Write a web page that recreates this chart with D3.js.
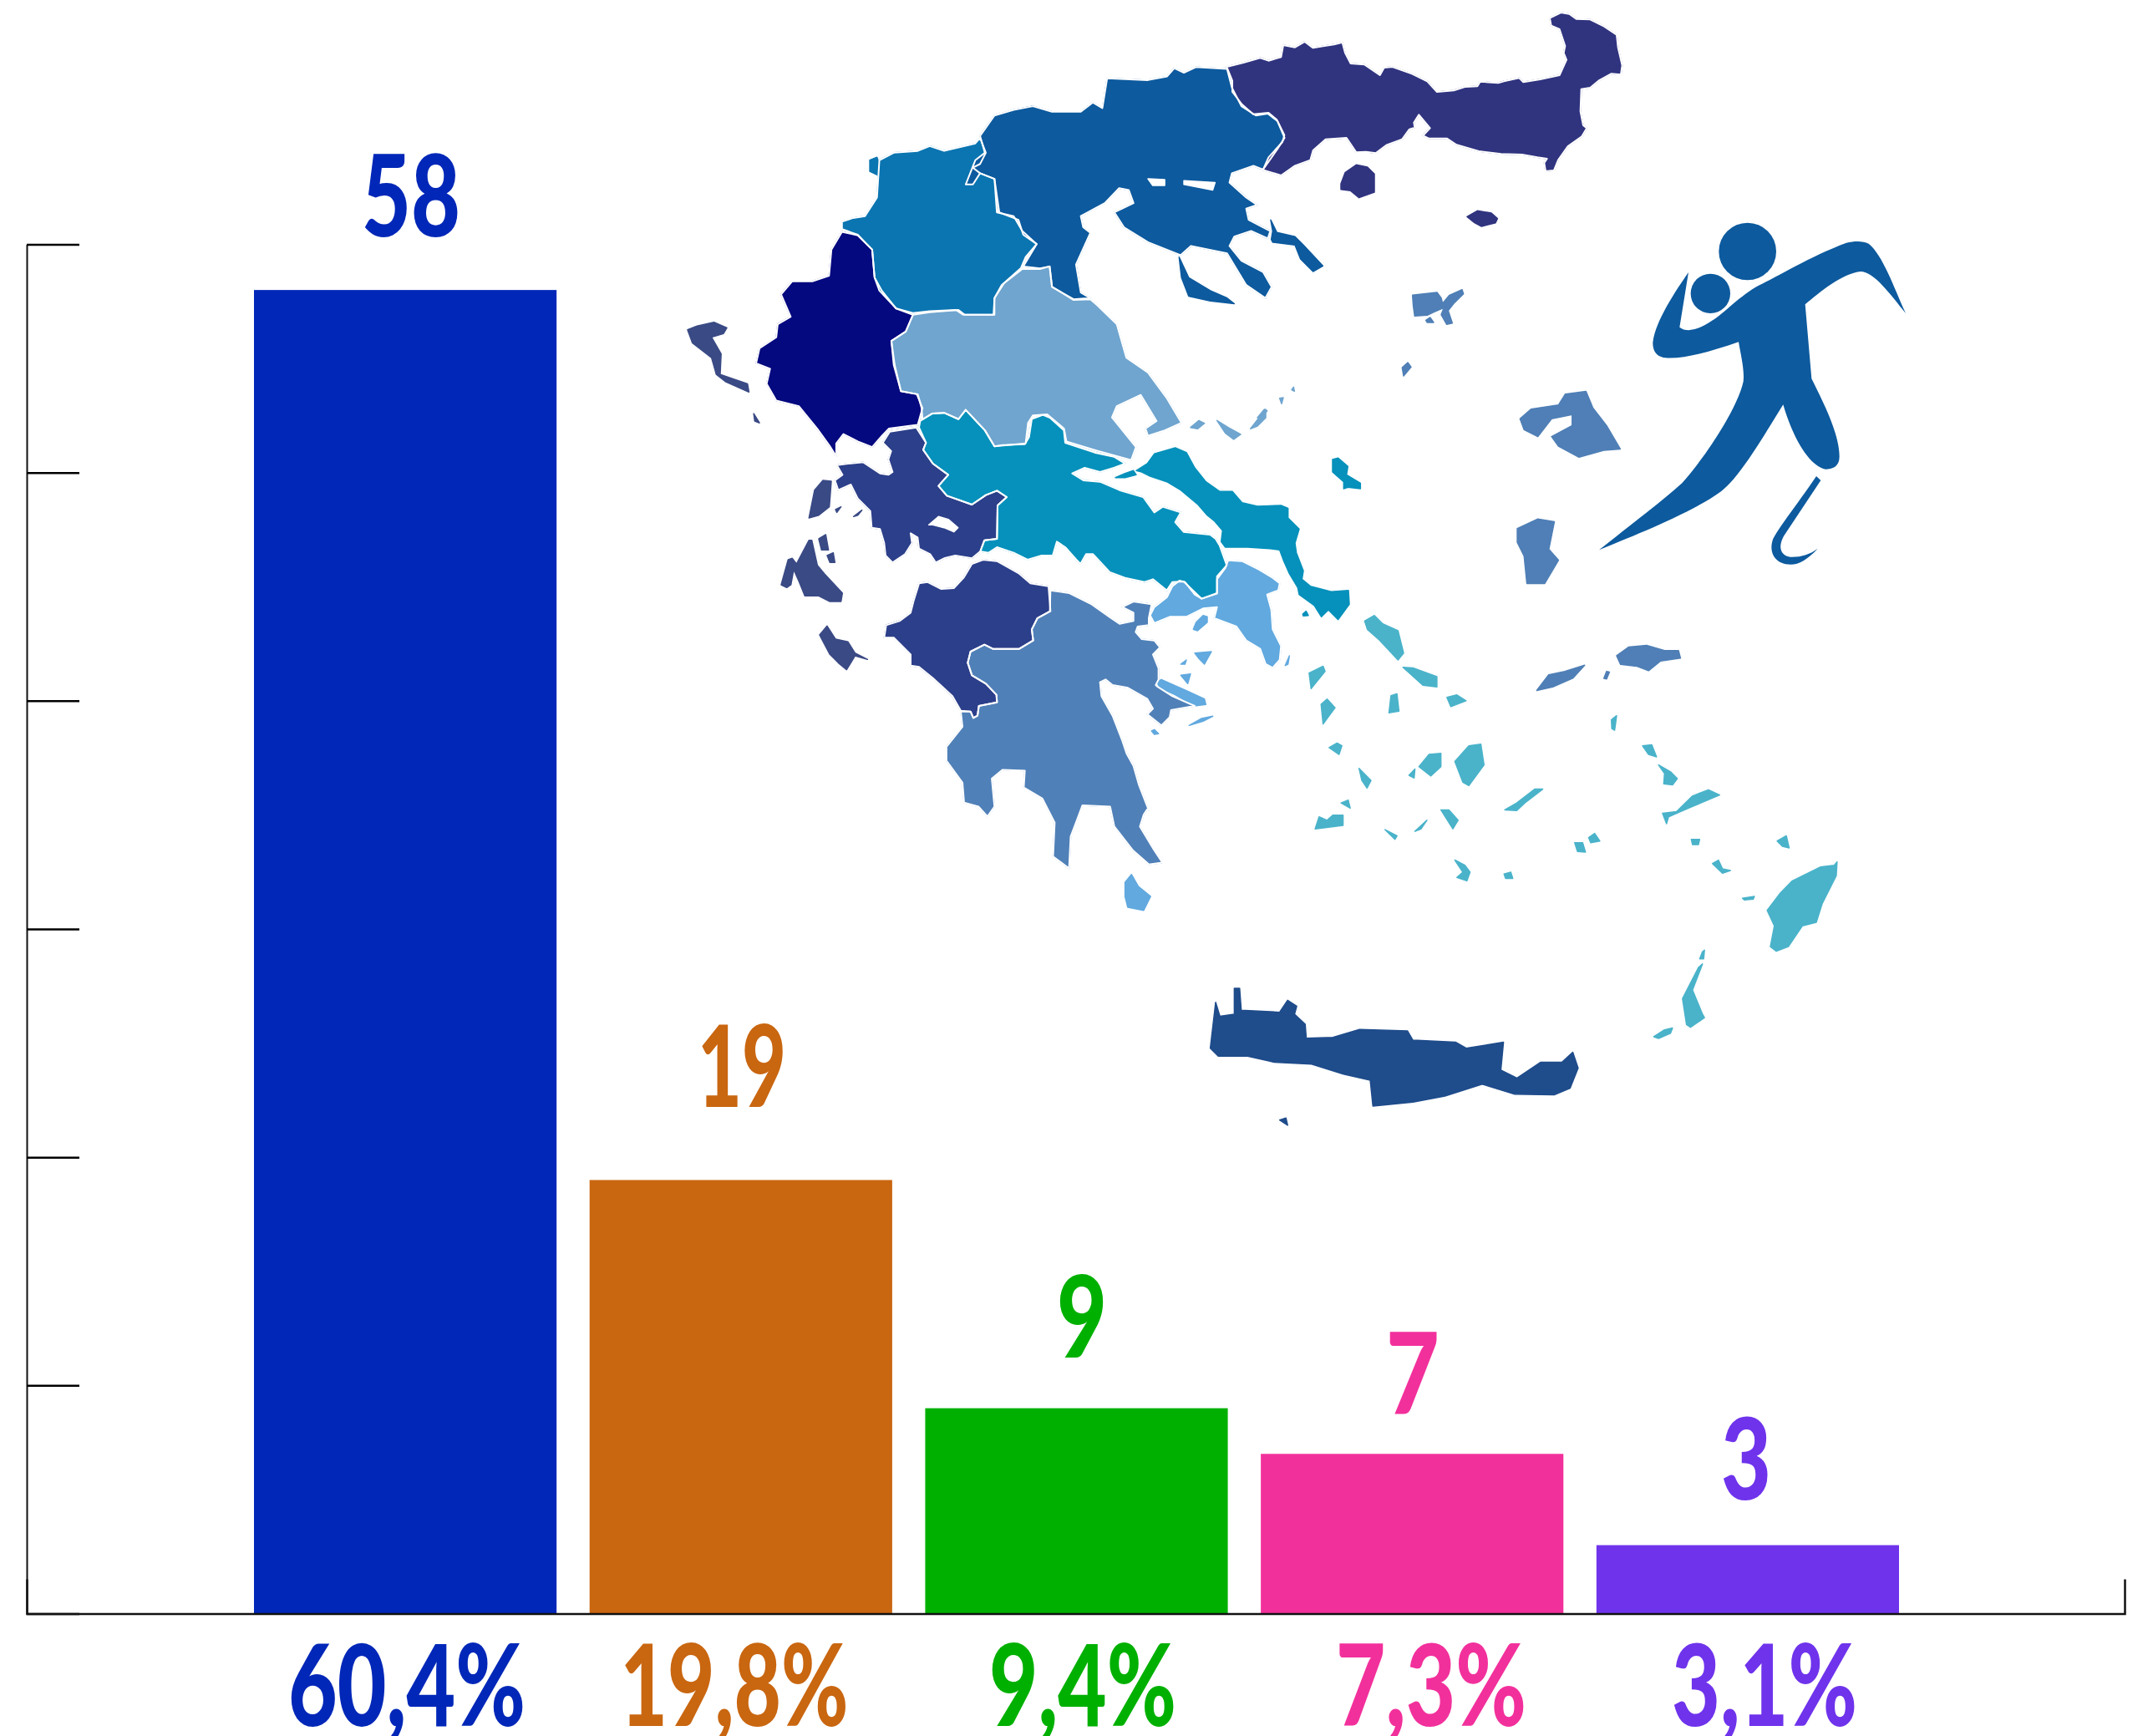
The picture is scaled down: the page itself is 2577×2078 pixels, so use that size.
<!DOCTYPE html>
<html><head><meta charset="utf-8">
<script src="https://cdn.jsdelivr.net/npm/d3@7/dist/d3.min.js"></script>
<style>html,body{margin:0;padding:0;background:#fff}svg{display:block}</style>
</head><body><svg id="c" width="2577" height="2078"></svg>
<script>
// ---------- chart data ----------
const percentLabels = ["60,4%","19,8%","9,4%","7,3%","3,1%"];
const seats = [58,19,9,7,3];
const barColors = ["#0027b8","#c96610","#00b000","#f2309c","#6f33ec"];
const yTicks = [0,10,20,30,40,50,60];

// ---------- label layout: centre, width, baseline for each hand-placed label ----------
const seatLabelCx = [492,888,1295,1691,2090];
const seatLabelW  = [118,106,60,64,60];
const seatLabelBase = [283,1325,1625,1693,1795];
const pctLabelCx = [487,879,1296,1713,2112];
const pctLabelW  = [284,273,224,228,222];

// ---------- map artwork, traced in crop coordinates ----------
const view=(ox,oy,kx,ky)=>pts=>pts.map(([x,y])=>[ox+x*kx,oy+y*ky]);
const Z2=view(800,0,.574,.446),Z3=view(900,650,.638,.478),Z5=view(1500,700,.478,.4145),
      Z7=view(1460,0,1/3,1/3),Z8=view(900,500,1/3,1/3),Z9=view(1200,480,1/3,1/3),R=view(0,0,1.6435,1.6435);

const thrace=[Z7([[25,240],[85,225],[145,208],[175,218],[220,205],[228,162],[270,170],[305,150],[335,172],[375,165],[410,160],[440,152],[450,190],[470,228],[520,232],[575,270],[590,243],[620,240],[690,265],[745,292],[780,330],[840,325],[880,312],[925,310],[935,293],[1000,298],[1020,292],[1075,280],[1090,295],[1150,285],[1220,270],[1245,215],[1235,190],[1240,165],[1220,105],[1190,92],[1185,65],[1225,45],[1255,50],[1280,68],[1330,70],[1380,95],[1425,125],[1430,170],[1445,235],[1440,268],[1405,265],[1360,290],[1330,315],[1298,320],[1295,400],[1305,450],[1318,460],[1300,490],[1250,525],[1215,575],[1200,612],[1170,615],[1165,585],[1175,570],[1140,565],[1085,555],[1010,553],[930,543],[850,520],[815,497],[750,497],[730,487],[755,460],[715,412],[697,440],[700,458],[680,465],[655,500],[600,520],[560,550],[525,545],[490,547],[455,495],[380,500],[335,540],[325,575],[270,595],[220,630],[155,610],[175,565],[225,510],[232,485],[205,430],[175,405],[120,410],[80,375],[45,330],[45,290]]),
 Z7([[435,660],[450,620],[490,592],[530,600],[555,625],[555,690],[500,710],[470,685],[435,680]]),
 Z7([[888,778],[925,757],[975,765],[997,785],[990,800],[940,813],[915,800]])];
const centralMacedonia=[Z2([[650,365],[680,310],[720,295],[760,285],[800,300],[860,300],[885,275],[905,290],[915,210],[1000,215],[1040,205],[1055,183],[1075,195],[1100,180],[1165,185],[1175,235],[1195,285],[1225,310],[1250,305],[1270,325],[1285,370],[1270,400],[1240,455],[1220,445],[1175,465],[1170,490],[1205,530],[1228,550],[1205,560],[1210,590],[1255,620],[1250,640],[1215,620],[1180,635],[1170,660],[1195,700],[1240,730],[1258,770],[1245,800],[1205,765],[1165,680],[1090,660],[1068,685],[1000,650],[950,610],[930,570],[970,545],[960,510],[940,505],[910,545],[860,580],[865,610],[880,625],[850,710],[860,785],[880,800],[845,803],[800,770],[795,715],[775,720],[740,715],[768,655],[740,630],[730,590],[690,570],[680,480],[650,465],[635,495],[620,495],[640,430],[660,410]]),
 Z2([[1065,690],[1085,745],[1130,780],[1165,800],[1180,815],[1130,808],[1085,795],[1070,745]]),
 Z7([[183,790],[205,835],[270,850],[300,880],[370,955],[335,975],[290,930],[270,880],[190,870],[185,860],[190,830]])];
const macedoniaLakes=[Z2([[1000,480],[1035,482],[1035,498],[1010,498]]),Z2([[1075,485],[1140,490],[1135,510],[1075,495]])];
const westMacedonia=[Z2([[362,615],[362,595],[385,585],[410,580],[435,530],[440,430],[470,410],[520,405],[545,392],[575,405],[640,385],[650,370],[662,410],[650,440],[635,450],[650,465],[680,480],[685,570],[720,580],[738,620],[768,655],[745,690],[735,720],[695,765],[680,800],[678,845],[615,845],[600,832],[545,835],[510,840],[475,828],[440,780],[430,745],[425,670],[395,630]]),
 Z2([[420,430],[435,422],[440,440],[455,450],[440,472],[420,460]])];
const epirus=[Z2([[362,622],[395,632],[425,670],[430,745],[445,780],[475,828],[510,845],[495,890],[465,915],[470,980],[485,1050],[518,1058],[530,1095],[520,1140],[460,1150],[445,1170],[425,1200],[395,1185],[365,1165],[350,1190],[350,1225],[338,1200],[310,1150],[272,1090],[225,1075],[205,1030],[212,990],[183,975],[190,935],[225,905],[228,870],[255,850],[235,790],[258,755],[300,755],[335,740],[340,670]])];
const thessaly=[Z2([[510,845],[545,838],[605,832],[618,845],[680,845],[680,800],[700,760],[738,722],[775,722],[795,715],[800,770],[845,805],[880,803],[895,820],[935,870],[955,960],[1000,1000],[1040,1070],[1070,1135],[1035,1155],[1000,1170],[995,1150],[1018,1130],[985,1060],[935,1090],[925,1120],[950,1160],[975,1200],[965,1235],[895,1210],[830,1185],[825,1150],[790,1112],[760,1115],[750,1135],[745,1190],[680,1198],[660,1155],[620,1100],[605,1125],[575,1108],[550,1110],[530,1125],[528,1095],[520,1058],[485,1050],[472,980],[465,915],[495,890]]),
 Z9([[675,95],[705,70],[725,80],[700,100]]),Z9([[770,70],[810,95],[855,120],[830,138],[800,115]]),Z9([[890,100],[925,55],[945,30],[945,60],[915,90]]),
 Z7([[215,1430],[228,1428],[222,1450]]),Z7([[135,1500],[160,1470],[170,1475],[150,1500]]),Z7([[258,1400],[265,1390],[268,1405]])];
const centralGreece=[[...Z8([[600,35],[625,90],[615,115],[650,165],[705,205],[670,245],[700,280],[790,312],[840,278],[880,262],[915,285],[882,315],[880,435],[835,440],[820,480],[850,485],[880,465],[940,485],[990,510],[1040,495],[1080,495],[1095,445],[1125,465],[1165,510],[1180,525],[1200,490],[1225,490],[1285,555]]),
 ...Z9([[440,635],[510,650],[540,640],[590,680],[610,650],[650,648],[715,710],[770,690],[770,630],[805,590],[780,520],[765,495],[745,480],[650,470],[620,435],[640,400],[575,380],[545,400],[505,345],[420,320],[350,290],[290,285],[250,260],[295,240],[350,255],[400,240],[440,225],[400,200],[330,185],[225,150],[220,105],[170,60],[145,50],[105,65],[95,130],[80,155],[0,158]]),
 ...Z2([[680,1198],[660,1155],[620,1100],[605,1125],[575,1108],[550,1110],[525,1130]])],
 Z9([[405,275],[440,260],[470,250],[480,265],[440,275]]),
 Z9([[480,250],[520,225],[545,190],[620,168],[660,185],[690,240],[730,290],[780,325],[825,325],[860,365],[915,378],[1000,375],[1025,385],[1025,420],[1065,460],[1050,510],[1055,545],[1080,610],[1075,640],[1105,665],[1180,685],[1242,680],[1245,730],[1205,785],[1170,750],[1145,775],[1120,735],[1065,695],[1060,670],[1030,620],[1010,575],[995,535],[960,530],[880,525],[800,525],[785,505],[790,465],[760,430],[735,410],[700,370],[640,320],[590,290],[530,270],[500,255]]),
 Z9([[1185,210],[1205,205],[1240,235],[1235,265],[1285,295],[1285,315],[1240,310],[1225,315],[1225,290],[1185,255]]),
 Z9([[1078,765],[1090,755],[1098,770],[1080,772]])];
const attica=[Z9([[530,770],[545,740],[590,705],[610,665],[635,645],[655,650],[690,695],[715,710],[770,692],[770,640],[800,600],[810,572],[860,575],[920,605],[970,635],[995,655],[990,680],[950,695],[965,750],[970,820],[1000,880],[995,930],[970,958],[945,945],[925,890],[875,860],[840,810],[800,795],[760,780],[770,740],[720,745],[660,775],[600,775],[545,798]]),
 Z9([[685,820],[695,795],[720,770],[735,775],[735,795],[700,825]]),Z9([[690,905],[750,900],[725,945],[705,925]]),Z9([[640,985],[675,980],[665,1015]]),Z9([[640,945],[660,930],[655,945]]),
 Z9([[555,1010],[570,1000],[660,1040],[725,1070],[730,1090],[690,1095],[620,1055],[565,1030]]),Z9([[535,1185],[545,1180],[560,1195],[545,1197]]),Z9([[670,1165],[715,1140],[755,1132],[720,1150]]),
 Z9([[1015,950],[1030,915],[1025,945]]),
 Z3([[700,850],[712,830],[725,860],[748,885],[735,920],[705,912],[700,885]])];
const peloponnese=[[...Z8([[1072,620],[1140,630],[1220,670],[1290,720],[1320,740],[1370,730],[1370,700],[1330,680],[1370,660],[1435,670],[1425,720],[1425,745],[1385,750],[1378,770],[1400,795],[1445,800],[1465,825],[1440,850],[1460,900],[1460,940],[1450,960]]),
 ...Z9([[555,1025],[610,1060],[690,1095],[605,1110],[600,1135],[570,1165],[520,1125],[540,1105],[520,1070],[450,1030],[395,1020],[370,1000],[350,1010],[355,1060],[395,1130],[430,1220],[445,1265],[470,1310],[490,1380],[525,1470]]),
 ...Z3([[745,660],[735,680],[728,710],[755,770],[770,800],[745,805],[715,770],[680,710],[672,660],[620,657],[608,700],[598,735],[595,815],[565,785],[568,700],[545,640],[510,612],[512,570],[470,568],[450,590],[455,660],[442,685],[425,660],[398,650],[395,600],[365,545],[365,510],[395,460]]),
 ...Z8([[750,1055],[785,1055],[795,1078],[810,1070],[815,1035],[880,1022],[878,995],[840,955],[790,925],[775,880],[785,840],[835,815],[865,830],[960,830],[1010,800],[1005,760],[1025,720],[1070,695]])]];
const westernGreece=[Z8([[600,595],[630,590],[680,615],[725,612],[760,575],[790,525],[830,510],[880,515],[960,560],[1000,595],[1065,605],[1072,695],[1025,720],[1005,760],[1010,800],[960,830],[865,830],[835,815],[785,840],[775,880],[790,925],[840,955],[878,995],[880,1022],[815,1035],[810,1070],[795,1078],[785,1055],[750,1052],[720,1000],[650,935],[600,895],[570,890],[570,850],[510,790],[475,790],[482,745],[530,730],[570,700],[580,660]]),
 Z8([[470,90],[495,50],[590,35],[625,90],[615,115],[650,165],[705,205],[670,245],[700,280],[790,312],[840,278],[880,262],[915,285],[882,315],[880,435],[835,440],[820,480],[790,505],[730,495],[690,505],[660,520],[640,490],[600,470],[595,430],[570,415],[575,450],[550,490],[505,520],[480,495],[475,450],[460,400],[430,395],[425,335],[380,290],[355,240],[310,260],[298,225],[325,205],[305,170],[345,165],[400,160],[460,200],[490,205],[505,195],[490,150],[500,120]])];
const acarnaniaLake=[Z8([[635,385],[670,355],[705,365],[740,395],[725,410],[690,395],[650,385]])];
const ionian=[Z2([[40,885],[60,875],[95,865],[122,880],[115,895],[90,905],[110,950],[108,1005],[165,1030],[168,1052],[120,1025],[100,1005],[90,960],[50,920]]),
 Z2([[178,1110],[190,1135],[180,1130]]),
 Z8([[205,360],[225,260],[255,225],[285,228],[278,320],[240,350]]),
 Z8([[105,600],[130,510],[145,505],[160,525],[205,440],[215,440],[235,530],[260,560],[325,630],[320,660],[280,660],[240,640],[190,640],[170,590],[150,545],[140,600],[125,610]]),
 Z8([[240,435],[265,420],[275,475],[250,475]]),Z8([[270,495],[292,485],[298,520],[280,520]]),
 Z8([[243,780],[270,748],[300,795],[345,805],[370,845],[415,868],[370,855],[340,905],[310,880],[280,850]]),
 Z8([[300,330],[320,320],[305,340]]),Z8([[365,355],[395,332],[380,350]])];
const crete=[Z3([[860,1265],[870,1150],[878,1185],[905,1180],[905,1115],[915,1115],[918,1170],[990,1175],[1005,1145],[1022,1160],[1018,1180],[1038,1205],[1040,1240],[1090,1238],[1140,1218],[1230,1222],[1240,1245],[1320,1250],[1340,1265],[1410,1250],[1405,1320],[1435,1340],[1480,1300],[1520,1300],[1540,1275],[1550,1315],[1535,1365],[1505,1382],[1430,1380],[1370,1355],[1300,1385],[1240,1400],[1165,1410],[1160,1345],[1110,1330],[1050,1305],[980,1300],[930,1285],[875,1285]]),
 Z3([[990,1445],[1002,1440],[1005,1458]])];
const southAegean=[Z9([[1300,790],[1335,770],[1365,800],[1420,825],[1440,905],[1420,930],[1355,860],[1310,820]]),
 ...[[[375,238],[400,240],[460,265],[460,295],[425,290]],[[140,255],[175,235],[180,250],[145,300]],[[170,345],[185,330],[205,355],[175,402]],[[345,320],[360,315],[365,365],[340,370]],[[485,325],[510,318],[533,335],[495,352]],[[190,470],[210,457],[222,465],[215,490]],[[415,525],[440,490],[470,487],[470,525],[445,552]],[[505,510],[540,465],[570,460],[578,520],[540,580],[525,570]],[[265,530],[295,565],[285,587],[272,565]],[[390,550],[405,532],[403,558]],[[630,650],[660,630],[705,590],[725,590],[680,630],[660,652]],[[155,705],[165,670],[185,680],[200,665],[225,665],[225,695]],[[220,630],[238,622],[243,645]],[[470,650],[490,650],[513,680],[500,705]],[[405,712],[435,680],[420,705]],[[330,707],[360,725],[355,735]],[[505,795],[530,810],[543,830],[535,855],[510,845],[525,830]],[[628,835],[645,830],[650,848],[632,848]],[[805,745],[825,745],[832,772],[812,770]],[[840,730],[855,718],[868,740],[845,745]],[[1025,660],[1060,655],[1100,610],[1140,592],[1168,607],[1100,640],[1060,660],[1040,670],[1035,690]],[[1028,575],[1030,545],[1015,520],[1045,540],[1062,560],[1050,578]],[[975,465],[998,462],[1010,497],[990,490]],[[897,390],[910,378],[905,420],[898,415]],[[1097,735],[1118,735],[1115,750],[1100,750]],[[1150,805],[1165,795],[1175,820],[1195,825],[1175,833]],[[1312,740],[1335,725],[1342,760],[1325,755]],[[1287,940],[1320,890],[1350,855],[1420,815],[1455,810],[1462,800],[1460,840],[1425,920],[1410,975],[1375,985],[1340,1045],[1310,1058],[1295,1045],[1305,985]],[[1125,1060],[1130,1055],[1128,1080],[1118,1080]],[[1115,1105],[1125,1095],[1100,1170],[1125,1240],[1130,1250],[1095,1278],[1085,1270],[1075,1195]],[[1003,1305],[1030,1285],[1050,1280],[1045,1295],[1015,1310]],[[1225,905],[1255,900],[1252,908],[1230,910]]].map(Z5)];
const northAegean=[Z7([[692,1060],[780,1050],[795,1070],[800,1090],[825,1060],[870,1040],[875,1055],[840,1090],[820,1115],[835,1160],[815,1165],[795,1130],[805,1105],[770,1120],[745,1132],[700,1135],[695,1100]]),
 Z7([[740,1150],[755,1140],[768,1158],[745,1158]]),Z7([[655,1320],[675,1302],[687,1318],[660,1350]]),
 R([[1107,305],[1115,298],[1135,295],[1140,287],[1155,285],[1160,297],[1170,310],[1180,327],[1168,328],[1150,333],[1135,325],[1130,318],[1145,310],[1145,302],[1130,305],[1120,318],[1110,313]]),
 R([[1105,385],[1120,378],[1132,380],[1128,400],[1135,408],[1125,425],[1112,425],[1110,405],[1105,395]]),
 Z5([[710,305],[740,260],[780,250],[830,232],[800,270],[750,295]]),
 Z5([[910,205],[940,180],[985,175],[1030,190],[1065,190],[1070,212],[1020,220],[990,248],[960,235],[920,230]]),
 Z5([[885,250],[892,252],[885,272],[878,270]])];

const mapLayers=[
 {polys:peloponnese,fill:"#5080b8"},{polys:westernGreece,fill:"#2c3f8a"},
 {polys:thessaly,fill:"#6fa5cf"},{polys:centralGreece,fill:"#0591bb"},
 {polys:attica,fill:"#61a9df"},{polys:epirus,fill:"#05097f"},
 {polys:westMacedonia,fill:"#0b75b1"},{polys:centralMacedonia,fill:"#0d5a9e"},
 {polys:thrace,fill:"#30347f"},{polys:ionian,fill:"#3a4a85"},
 {polys:crete,fill:"#1f4c8b"},{polys:southAegean,fill:"#4ab3ca"},
 {polys:northAegean,fill:"#4f7fb6"},
 {polys:macedoniaLakes,fill:"#fff"},{polys:acarnaniaLake,fill:"#fff"}];

// ---------- scales ----------
const svg=d3.select("#c");
const x=d3.scaleBand().domain(percentLabels).range([304,2273]).paddingInner(.0984).paddingOuter(0);
const y=d3.scaleLinear().domain([0,60]).range([1931.5,292.5]);

// ---------- map ----------
const lineGen=d3.line().curve(d3.curveLinearClosed);
const gMap=svg.append("g");
mapLayers.forEach(l=>{
  gMap.append("g").selectAll("path").data(l.polys).join("path")
    .attr("d",lineGen).attr("fill",l.fill)
    .attr("stroke",l.fill).attr("stroke-width",1.5).attr("stroke-linejoin","round");
});
const borderGroups=[thessaly[0],centralGreece[0],attica[0],epirus[0],westMacedonia[0],centralMacedonia[0],thrace[0],peloponnese[0],westernGreece[0],westernGreece[1]];
gMap.append("g").selectAll("path").data(borderGroups).join("path")
  .attr("d",lineGen).attr("fill","none").attr("stroke","#fff").attr("stroke-width",2).attr("stroke-linejoin","round");

// ---------- athlete pictogram ----------
const gFig=svg.append("g").attr("transform","translate(1850,250) scale(0.33333)").attr("fill","#0d5a9e");
gFig.append("circle").attr("cx",725).attr("cy",153).attr("r",103);
gFig.append("circle").attr("cx",592).attr("cy",304).attr("r",71);
gFig.append("path").attr("d","M513,228 L481,425 Q520,455 600,400 C640,375 700,310 765,275 C830,245 950,170 1080,122 C1110,115 1140,115 1160,125 C1210,165 1250,280 1293,375 C1240,310 1180,225 1130,225 C1060,235 990,295 932,343 L955,610 C1000,700 1055,810 1055,890 C1055,925 1030,935 1005,935 C950,925 890,830 853,703 C780,820 700,960 630,1015 C520,1095 300,1180 192,1225 C300,1140 430,1040 490,985 C590,870 690,710 710,620 C715,580 700,520 693,478 C600,510 500,540 430,535 C390,530 385,500 385,480 C395,400 470,290 513,228 Z");
gFig.append("path").attr("d","M972,960 L988,975 L855,1175 C830,1220 850,1250 885,1250 C920,1250 950,1240 977,1220 C940,1260 910,1277 880,1277 C830,1277 800,1240 815,1190 C825,1160 930,1025 972,960 Z");

// ---------- bars ----------
const data=percentLabels.map((k,i)=>({k,v:seats[i],c:barColors[i],i}));
svg.append("g").selectAll("rect").data(data).join("rect")
  .attr("x",d=>x(d.k)).attr("width",x.bandwidth())
  .attr("y",d=>y(d.v)).attr("height",d=>y(0)-y(d.v)).attr("fill",d=>d.c);

// ---------- axes ----------
const axisL=d3.axisLeft(y).tickValues(yTicks).tickFormat("").tickSizeInner(-63).tickSizeOuter(0);
const gy=svg.append("g").attr("transform","translate(32,0)").call(axisL);
gy.selectAll("line").attr("stroke","#000").attr("stroke-width",2.5);
gy.select(".domain").attr("stroke","#111").attr("stroke-width",2);
const baseScale=d3.scaleLinear().domain([0,1]).range([32,2543]);
const axisB=d3.axisBottom(baseScale).tickValues([]).tickSizeOuter(-41);
const gx=svg.append("g").attr("transform",`translate(0,${y(0)})`).call(axisB);
gx.select(".domain").attr("stroke","#111").attr("stroke-width",2.5).attr("fill","none");

// ---------- labels, squeezed horizontally to the condensed look ----------
function fitted(sel,cx,base,w){
  const len=sel.node().getComputedTextLength();
  sel.attr("transform",`translate(${cx},${base}) scale(${w/len},1)`);
}
const labelFont="Lato, 'Open Sans', sans-serif";
data.forEach((d,i)=>{
  const a=svg.append("text").text(d.v).attr("font-family",labelFont).attr("font-weight",900)
    .attr("font-size",136).attr("text-anchor","middle").attr("fill",d.c);
  fitted(a,seatLabelCx[i],seatLabelBase[i],seatLabelW[i]);
  const b=svg.append("text").text(d.k).attr("font-family",labelFont).attr("font-weight",900)
    .attr("font-size",136).attr("text-anchor","middle").attr("fill",d.c);
  fitted(b,pctLabelCx[i],2066,pctLabelW[i]);
});
</script></body></html>
